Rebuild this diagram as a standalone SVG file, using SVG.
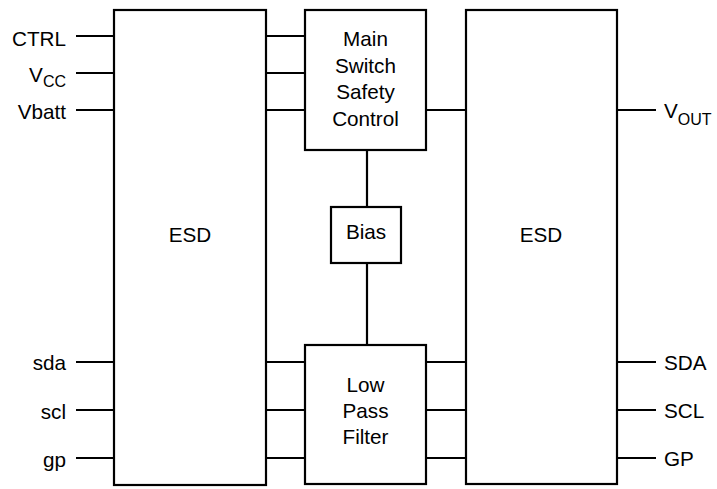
<svg xmlns="http://www.w3.org/2000/svg" width="717" height="489" viewBox="0 0 717 489">
<style>
.box{fill:#fff;stroke:#000;stroke-width:2.2}
.wire{stroke:#000;stroke-width:2.2;fill:none}
text{font-family:"Liberation Sans",Arial,sans-serif;font-size:20.7px;fill:#000}
.c{text-anchor:middle}
.r{text-anchor:end}
.sub{font-size:16px}
</style>
<rect width="717" height="489" fill="#fff"/>
<g id="connectors">
<path class="wire" d="M76 36H114M76 73H114M76 110H114M76 362H114M76 410H114M76 458H114"/>
<path class="wire" d="M266 36H305M266 73H305M266 110H305M266 362H305M266 410H305M266 458H305"/>
<path class="wire" d="M426 110H466M426 362H466M426 410H466M426 458H466"/>
<path class="wire" d="M617 110H656M617 362H656M617 410H656M617 458H656"/>
<path class="wire" d="M367 150V207M367 263V345"/>
</g>
<g id="esd-left">
<rect class="box" x="114" y="10" width="152" height="475"/>
<text class="c" x="190" y="242">ESD</text>
</g>
<g id="main-switch">
<rect class="box" x="305" y="10" width="121" height="140"/>
<text class="c" x="365.5" y="46">Main</text>
<text class="c" x="365.5" y="73">Switch</text>
<text class="c" x="365.5" y="99">Safety</text>
<text class="c" x="365.5" y="126">Control</text>
</g>
<g id="bias">
<rect class="box" x="331" y="207" width="70" height="56"/>
<text class="c" x="366" y="239">Bias</text>
</g>
<g id="low-pass-filter">
<rect class="box" x="305" y="345" width="121" height="139"/>
<text class="c" x="365.5" y="392">Low</text>
<text class="c" x="365.5" y="418">Pass</text>
<text class="c" x="365.5" y="444">Filter</text>
</g>
<g id="esd-right">
<rect class="box" x="466" y="10" width="151" height="474"/>
<text class="c" x="541" y="242">ESD</text>
</g>
<g id="pin-labels">
<text class="r" x="66" y="46">CTRL</text>
<text class="r" x="66" y="82">V<tspan class="sub" dy="5">CC</tspan></text>
<text class="r" x="66" y="119">Vbatt</text>
<text class="r" x="66" y="370">sda</text>
<text class="r" x="66" y="419">scl</text>
<text class="r" x="66" y="467">gp</text>
<text x="664" y="118">V<tspan class="sub" dy="7">OUT</tspan></text>
<text x="664" y="370">SDA</text>
<text x="664" y="418">SCL</text>
<text x="664" y="466">GP</text>
</g>
</svg>
